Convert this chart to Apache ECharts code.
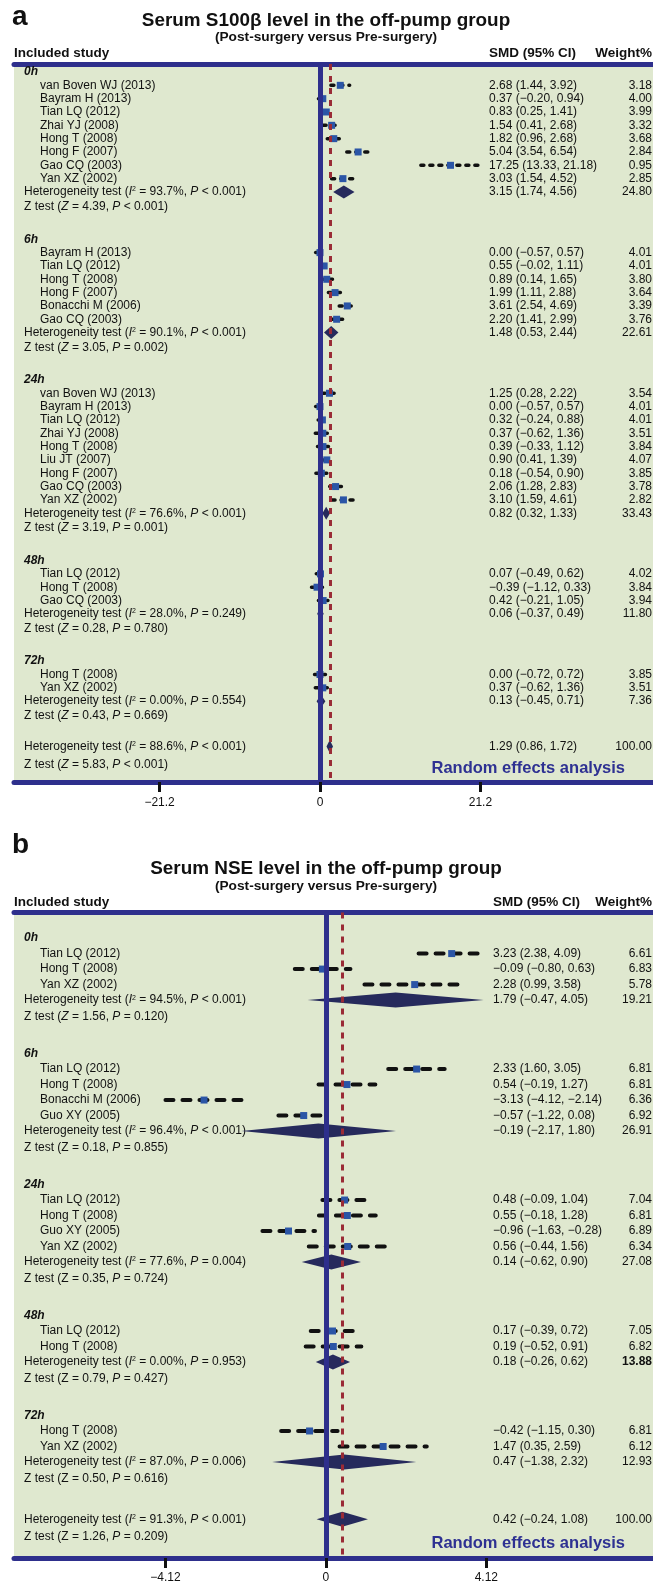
<!DOCTYPE html>
<html>
<head>
<meta charset="utf-8">
<script src="https://cdn.jsdelivr.net/npm/echarts@6/dist/echarts.min.js"></script>
<style>
html, body { margin: 0; padding: 0; background: #fff; }
#main { width: 653px; height: 1585px; }
</style>
</head>
<body>
<div id="main"></div>
<script>
// ---- panel a : S100β ----
const aGroups = ['0h', '6h', '24h', '48h', '72h'];
const aStudy = [
  'van Boven WJ (2013)', 'Bayram H (2013)', 'Tian LQ (2012)', 'Zhai YJ (2008)', 'Hong T (2008)', 'Hong F (2007)', 'Gao CQ (2003)', 'Yan XZ (2002)',
  'Bayram H (2013)', 'Tian LQ (2012)', 'Hong T (2008)', 'Hong F (2007)', 'Bonacchi M (2006)', 'Gao CQ (2003)',
  'van Boven WJ (2013)', 'Bayram H (2013)', 'Tian LQ (2012)', 'Zhai YJ (2008)', 'Hong T (2008)', 'Liu JT (2007)', 'Hong F (2007)', 'Gao CQ (2003)', 'Yan XZ (2002)',
  'Tian LQ (2012)', 'Hong T (2008)', 'Gao CQ (2003)',
  'Hong T (2008)', 'Yan XZ (2002)'
];
const aGroupOf = [0, 0, 0, 0, 0, 0, 0, 0, 1, 1, 1, 1, 1, 1, 2, 2, 2, 2, 2, 2, 2, 2, 2, 3, 3, 3, 4, 4];
const aSmd = [2.68, 0.37, 0.83, 1.54, 1.82, 5.04, 17.25, 3.03, 0.00, 0.55, 0.89, 1.99, 3.61, 2.20, 1.25, 0.00, 0.32, 0.37, 0.39, 0.90, 0.18, 2.06, 3.10, 0.07, -0.39, 0.42, 0.00, 0.37];
const aLow = [1.44, -0.20, 0.25, 0.41, 0.96, 3.54, 13.33, 1.54, -0.57, -0.02, 0.14, 1.11, 2.54, 1.41, 0.28, -0.57, -0.24, -0.62, -0.33, 0.41, -0.54, 1.28, 1.59, -0.49, -1.12, -0.21, -0.72, -0.62];
const aHigh = [3.92, 0.94, 1.41, 2.68, 2.68, 6.54, 21.18, 4.52, 0.57, 1.11, 1.65, 2.88, 4.69, 2.99, 2.22, 0.57, 0.88, 1.36, 1.12, 1.39, 0.90, 2.83, 4.61, 0.62, 0.33, 1.05, 0.72, 1.36];
const aWeight = [3.18, 4.00, 3.99, 3.32, 3.68, 2.84, 0.95, 2.85, 4.01, 4.01, 3.80, 3.64, 3.39, 3.76, 3.54, 4.01, 4.01, 3.51, 3.84, 4.07, 3.85, 3.78, 2.82, 4.02, 3.84, 3.94, 3.85, 3.51];
// pooled per group, last one = overall
const aPoolSmd = [3.15, 1.48, 0.82, 0.06, 0.13, 1.29];
const aPoolLow = [1.74, 0.53, 0.32, -0.37, -0.45, 0.86];
const aPoolHigh = [4.56, 2.44, 1.33, 0.49, 0.71, 1.72];
const aPoolWeight = [24.80, 22.61, 33.43, 11.80, 7.36, 100.00];
const aI2 = ['93.7%', '90.1%', '76.6%', '28.0%', '0.00%', '88.6%'];
const aHetP = ['< 0.001', '< 0.001', '< 0.001', '= 0.249', '= 0.554', '< 0.001'];
const aZ = ['4.39', '3.05', '3.19', '0.28', '0.43', '5.83'];
const aZP = ['< 0.001', '= 0.002', '= 0.001', '= 0.780', '= 0.669', '< 0.001'];
const aTicks = [-21.2, 0, 21.2];

// ---- panel b : NSE ----
const bGroups = ['0h', '6h', '24h', '48h', '72h'];
const bStudy = [
  'Tian LQ (2012)', 'Hong T (2008)', 'Yan XZ (2002)',
  'Tian LQ (2012)', 'Hong T (2008)', 'Bonacchi M (2006)', 'Guo XY (2005)',
  'Tian LQ (2012)', 'Hong T (2008)', 'Guo XY (2005)', 'Yan XZ (2002)',
  'Tian LQ (2012)', 'Hong T (2008)',
  'Hong T (2008)', 'Yan XZ (2002)'
];
const bGroupOf = [0, 0, 0, 1, 1, 1, 1, 2, 2, 2, 2, 3, 3, 4, 4];
const bSmd = [3.23, -0.09, 2.28, 2.33, 0.54, -3.13, -0.57, 0.48, 0.55, -0.96, 0.56, 0.17, 0.19, -0.42, 1.47];
const bLow = [2.38, -0.80, 0.99, 1.60, -0.19, -4.12, -1.22, -0.09, -0.18, -1.63, -0.44, -0.39, -0.52, -1.15, 0.35];
const bHigh = [4.09, 0.63, 3.58, 3.05, 1.27, -2.14, 0.08, 1.04, 1.28, -0.28, 1.56, 0.72, 0.91, 0.30, 2.59];
const bWeight = [6.61, 6.83, 5.78, 6.81, 6.81, 6.36, 6.92, 7.04, 6.81, 6.89, 6.34, 7.05, 6.82, 6.81, 6.12];
const bPoolSmd = [1.79, -0.19, 0.14, 0.18, 0.47, 0.42];
const bPoolLow = [-0.47, -2.17, -0.62, -0.26, -1.38, -0.24];
const bPoolHigh = [4.05, 1.80, 0.90, 0.62, 2.32, 1.08];
const bPoolWeight = [19.21, 26.91, 27.08, 13.88, 12.93, 100.00];
const bI2 = ['94.5%', '96.4%', '77.6%', '0.00%', '87.0%', '91.3%'];
const bHetP = ['< 0.001', '< 0.001', '= 0.004', '= 0.953', '= 0.006', '< 0.001'];
const bZ = ['1.56', '0.18', '0.35', '0.79', '0.50', '1.26'];
const bZP = ['= 0.120', '= 0.855', '= 0.724', '= 0.427', '= 0.616', '= 0.209'];
const bTicks = [-4.12, 0, 4.12];

const FONT = "'Liberation Sans', Arial, Helvetica, sans-serif";
const INK = '#111';
const NAVY = '#2e2f8c';
const GREEN = '#dfe8cf';

const panels = [
  { key: 'a', groups: aGroups, study: aStudy, groupOf: aGroupOf, smd: aSmd, low: aLow, high: aHigh, weight: aWeight,
    pSmd: aPoolSmd, pLow: aPoolLow, pHigh: aPoolHigh, pWeight: aPoolWeight, i2: aI2, hetP: aHetP, z: aZ, zp: aZP, ticks: aTicks,
    top: 64, height: 718, rowPx: 13.33, start: 0.6, zStep: 1.1, gap: 2.45, oGap: 2.3, oZ: 1.35,
    xMin: -40.44, xMax: 44.01, smdX: 489, dash: [3, 6], ciW: 3.5, sq: 7, dia: 13, labelMargin: 15 },
  { key: 'b', groups: bGroups, study: bStudy, groupOf: bGroupOf, smd: bSmd, low: bLow, high: bHigh, weight: bWeight,
    pSmd: bPoolSmd, pLow: bPoolLow, pHigh: bPoolHigh, pWeight: bPoolWeight, i2: bI2, hetP: bHetP, z: bZ, zp: bZP, ticks: bTicks,
    top: 912.5, height: 645.5, rowPx: 15.5, start: 1.65, zStep: 1.1, gap: 2.35, oGap: 2.6, oZ: 1.1,
    xMin: -8.01, xMax: 8.40, smdX: 493, dash: [8, 9], ciW: 4, sq: 7, dia: 15, labelMargin: 14 }
];

const fmt = v => (v < 0 ? '\u2212' : '') + Math.abs(v).toFixed(2);
const ciText = (m, l, h) => fmt(m) + ' (' + fmt(l) + ', ' + fmt(h) + ')';

const RICH = {
  i: { fontStyle: 'italic', fontSize: 12, fontFamily: FONT, fill: INK },
  s: { fontSize: 7, fontFamily: FONT, fill: INK, verticalAlign: 'top' },
  b: { fontWeight: 'bold', fontSize: 12, fontFamily: FONT, fill: INK }
};

function txt(x, y, text, align, extra) {
  return {
    type: 'text', x: x, y: y,
    style: Object.assign({ text: text, fill: INK, fontSize: 12, fontFamily: FONT,
      align: align || 'left', verticalAlign: 'middle', rich: RICH }, extra || {})
  };
}

// rows of a panel: header, studies, heterogeneity, z test ... then overall
function buildRows(P) {
  const rows = [];
  const studyY = [];
  let y = P.start, lastZ = 0;
  P.groups.forEach((g, gi) => {
    rows.push({ kind: 'head', y: y, g: gi });
    y += 1;
    P.study.forEach((s, i) => {
      if (P.groupOf[i] !== gi) return;
      rows.push({ kind: 'study', y: y, i: i });
      studyY[i] = y;
      y += 1;
    });
    rows.push({ kind: 'het', y: y, g: gi });
    y += P.zStep;
    rows.push({ kind: 'z', y: y, g: gi });
    lastZ = y;
    y += P.gap;
  });
  const oy = lastZ + P.oGap;
  rows.push({ kind: 'het', y: oy, g: P.groups.length });
  rows.push({ kind: 'z', y: oy + P.oZ, g: P.groups.length });
  return { rows: rows, studyY: studyY };
}

const grid = [], xAxis = [], yAxis = [], series = [];

panels.forEach((P, pi) => {
  const built = buildRows(P);
  const rows = built.rows;
  grid.push({ left: 14, right: 0, top: P.top, height: P.height, show: true, backgroundColor: GREEN,
    borderWidth: 0, containLabel: false, outerBoundsMode: 'none' });
  // bottom axis with ticks
  xAxis.push({
    type: 'value', gridIndex: pi, position: 'bottom', min: P.xMin, max: P.xMax,
    axisLine: { show: true, onZero: false, lineStyle: { color: NAVY, width: 5 } },
    axisTick: { show: true, customValues: P.ticks, length: 10, lineStyle: { color: INK, width: 3 } },
    axisLabel: { show: true, customValues: P.ticks, margin: P.labelMargin, color: INK, fontSize: 12, fontFamily: FONT,
      formatter: v => (v < 0 ? '\u2212' : '') + Math.abs(v) },
    splitLine: { show: false }
  });
  // top rule
  xAxis.push({
    type: 'value', gridIndex: pi, position: 'top', min: P.xMin, max: P.xMax,
    axisLine: { show: true, onZero: false, lineStyle: { color: NAVY, width: 5 } },
    axisTick: { show: false }, axisLabel: { show: false }, splitLine: { show: false }
  });
  yAxis.push({ type: 'value', gridIndex: pi, inverse: true, min: 0, max: P.height / P.rowPx, show: false });

  const last = P.groups.length;

  // text columns + reference lines
  series.push({
    type: 'custom', name: 'text' + P.key, xAxisIndex: pi * 2, yAxisIndex: pi, z: 2, silent: true,
    data: rows.map((r, k) => [0, r.y, k]),
    encode: { x: 0, y: 1 },
    renderItem: (params, api) => {
      const r = rows[api.value(2)];
      const py = api.coord([0, api.value(1)])[1];
      const left = params.coordSys.x;
      const right = params.coordSys.x + params.coordSys.width - 1;
      const kids = [];
      if (r.kind === 'head') {
        kids.push(txt(left + 10, py, P.groups[r.g], 'left', { fontWeight: 'bold', fontStyle: 'italic' }));
      } else if (r.kind === 'study') {
        const i = r.i;
        kids.push(txt(left + 26, py, P.study[i]));
        kids.push(txt(P.smdX, py, ciText(P.smd[i], P.low[i], P.high[i])));
        kids.push(txt(right, py, P.weight[i].toFixed(2), 'right'));
      } else if (r.kind === 'het') {
        const g = r.g;
        kids.push(txt(left + 10, py, 'Heterogeneity test ({i|I}{s|2} = ' + P.i2[g] + ', {i|P} ' + P.hetP[g] + ')'));
        kids.push(txt(P.smdX, py, ciText(P.pSmd[g], P.pLow[g], P.pHigh[g])));
        const w = P.pWeight[g].toFixed(2);
        kids.push(txt(right, py, (P.key === 'b' && g === 3) ? '{b|' + w + '}' : w, 'right'));
      } else {
        const g = r.g;
        const zz = (P.key === 'a' || g === 0) ? '{i|Z}' : 'Z';
        kids.push(txt(left + 10, py, 'Z test (' + zz + ' = ' + P.z[g] + ', {i|P} ' + P.zp[g] + ')'));
      }
      return { type: 'group', children: kids };
    },
    markLine: {
      silent: true, symbol: ['none', 'none'], label: { show: false }, animation: false,
      data: [
        { xAxis: 0, lineStyle: { color: NAVY, width: 5, type: 'solid' } },
        { xAxis: P.pSmd[last], lineStyle: { color: '#9a2b36', width: 3, type: [6, 6] } }
      ]
    }
  });

  // study confidence intervals and point estimates
  series.push({
    type: 'custom', name: 'ci' + P.key, xAxisIndex: pi * 2, yAxisIndex: pi, z: 3, silent: true,
    data: P.smd.map((m, i) => [P.low[i], P.high[i], m, built.studyY[i]]),
    encode: { x: [0, 1, 2], y: 3 },
    renderItem: (params, api) => {
      const y = api.value(3);
      const a = api.coord([api.value(0), y]);
      const b = api.coord([api.value(1), y]);
      const c = api.coord([api.value(2), y]);
      const s = P.sq;
      return {
        type: 'group', children: [
          { type: 'line', shape: { x1: a[0], y1: a[1], x2: b[0], y2: b[1] },
            style: { stroke: INK, lineWidth: P.ciW, lineDash: P.dash, lineCap: 'round' } },
          { type: 'rect', shape: { x: c[0] - s / 2, y: c[1] - s / 2, width: s, height: s }, style: { fill: '#2b55a6' } }
        ]
      };
    }
  });

  // pooled diamonds
  const hetRows = rows.filter(r => r.kind === 'het');
  series.push({
    type: 'custom', name: 'pool' + P.key, xAxisIndex: pi * 2, yAxisIndex: pi, z: 3, silent: true,
    data: hetRows.map(r => [P.pLow[r.g], P.pHigh[r.g], P.pSmd[r.g], r.y]),
    encode: { x: [0, 1, 2], y: 3 },
    renderItem: (params, api) => {
      const y = api.value(3);
      const a = api.coord([api.value(0), y]);
      const b = api.coord([api.value(1), y]);
      const c = api.coord([api.value(2), y]);
      const h = P.dia / 2;
      return {
        type: 'polygon',
        shape: { points: [[a[0], a[1]], [c[0], c[1] - h], [b[0], b[1]], [c[0], c[1] + h]] },
        style: { fill: '#262a5c' }
      };
    }
  });
});

function label(x, y, text, size, align, color) {
  return { type: 'text', x: x, y: y, silent: true,
    style: { text: text, fill: color || INK, fontSize: size, fontWeight: 'bold', fontFamily: FONT,
      align: align, verticalAlign: 'middle' } };
}

const graphic = [
  label(12, 17, 'a', 28, 'left'),
  label(326, 20.5, 'Serum S100\u03b2 level in the off-pump group', 18.9, 'center'),
  label(326, 37, '(Post-surgery versus Pre-surgery)', 13.7, 'center'),
  label(14, 53, 'Included study', 13.5, 'left'),
  label(489, 53, 'SMD (95% CI)', 13.5, 'left'),
  label(652, 53, 'Weight%', 13.5, 'right'),
  label(625, 768.5, 'Random effects analysis', 16.5, 'right', '#2e3192'),
  label(12, 845, 'b', 28, 'left'),
  label(326, 868.5, 'Serum NSE level in the off-pump group', 18.9, 'center'),
  label(326, 886, '(Post-surgery versus Pre-surgery)', 13.7, 'center'),
  label(14, 902.5, 'Included study', 13.5, 'left'),
  label(493, 902.5, 'SMD (95% CI)', 13.5, 'left'),
  label(652, 902.5, 'Weight%', 13.5, 'right'),
  label(625, 1543, 'Random effects analysis', 16.5, 'right', '#2e3192')
];

const chart = echarts.init(document.getElementById('main'), null, { renderer: 'canvas' });
chart.setOption({
  animation: false,
  backgroundColor: '#fff',
  textStyle: { fontFamily: FONT },
  grid: grid,
  xAxis: xAxis,
  yAxis: yAxis,
  series: series,
  graphic: graphic
});
</script>
</body>
</html>
